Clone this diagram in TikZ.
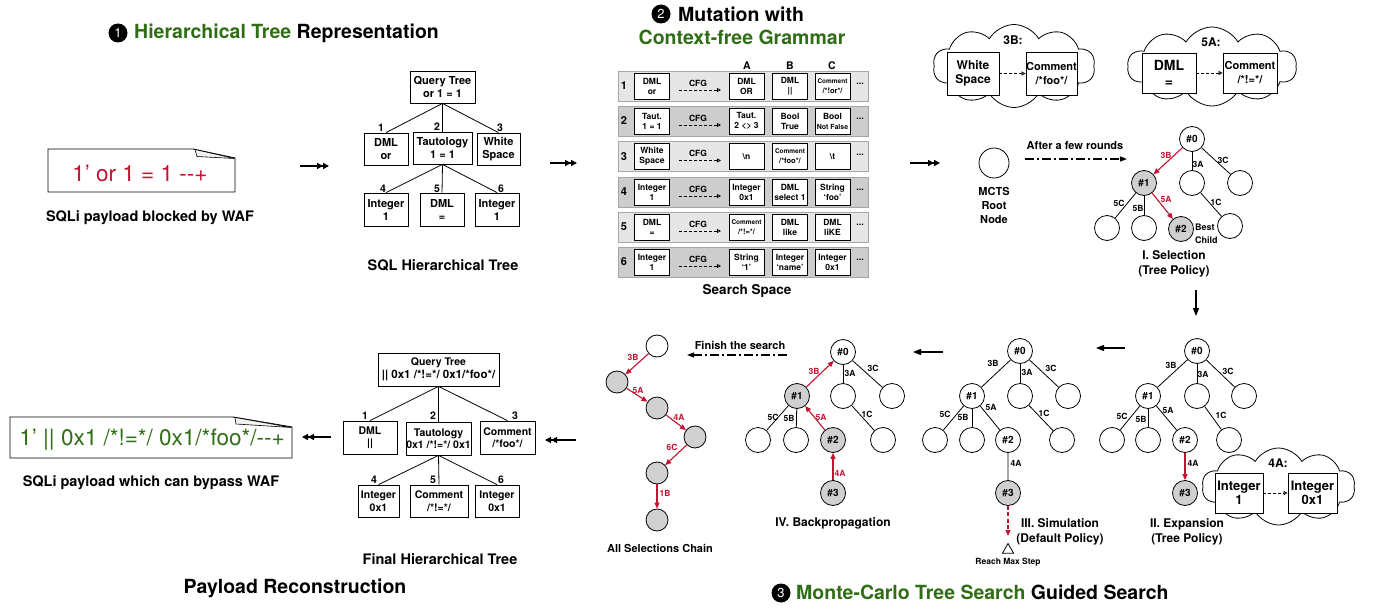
\documentclass[tikz,border=0pt]{standalone}
\usepackage{fontspec}
\setmainfont{TeX Gyre Heros}
\usetikzlibrary{arrows.meta,shapes.symbols,shapes.geometric}
\definecolor{mred}{HTML}{C41230}
\definecolor{mgreen}{HTML}{2F6E14}
\definecolor{ngray}{HTML}{D0D0D0}
\definecolor{rowlight}{HTML}{E6E6E6}
\definecolor{rowdark}{HTML}{CDCDCD}
\newcommand\fsz[2]{\fontsize{#1}{#2}\selectfont}
\tikzset{
  ttl/.style={font=\bfseries\fsz{19.5}{22}, inner sep=0pt},
  captxt/.style={font=\bfseries\fsz{14.5}{17}, inner sep=0pt},
  numc/.style={circle, fill=black, text=white, minimum size=19pt, inner sep=0pt, font=\fsz{13}{13}},
  hb/.style={draw, fill=white, line width=0.8pt, inner sep=0pt, align=center, font=\bfseries\fsz{11}{13}},
  fb/.style={hb, font=\bfseries\fsz{10.5}{12.5}},
  hl/.style={font=\bfseries\fsz{10.5}{12}, inner sep=0pt},
  gb/.style={draw, fill=white, line width=0.7pt, minimum width=35pt, minimum height=26pt, inner sep=0pt, align=center, font=\bfseries\fsz{8.5}{10}},
  tn/.style={circle, draw, fill=white, line width=0.8pt, minimum size=25pt, inner sep=0pt, font=\bfseries\fsz{10}{12}},
  tg/.style={tn, fill=ngray},
  cn/.style={tn, minimum size=22pt},
  cg/.style={cn, fill=ngray},
  elab/.style={font=\bfseries\fsz{8.5}{9}, inner sep=0pt},
  elr/.style={elab, text=mred},
  tedge/.style={line width=0.8pt},
  redarr/.style={draw=mred, line width=1.1pt, -{Triangle[length=6pt,width=5pt]}},
  dblarr/.style={line width=1.3pt, -{Triangle[length=6pt,width=6pt]Triangle[length=6pt,width=6pt]}},
  sarr/.style={line width=1.3pt, -{Triangle[length=8pt,width=6pt]}},
  ddarr/.style={line width=1.2pt, dash pattern=on 9pt off 3pt on 2pt off 3pt, -{Triangle[length=7pt,width=5pt]}},
  cfga/.style={line width=0.8pt, dash pattern=on 3pt off 2pt, -{Triangle[open,length=4pt,width=4pt]}},
  cld/.style={cloud, draw, fill=white, line width=0.8pt, cloud puffs=10, cloud puff arc=120, aspect=2},
  clb/.style={draw, fill=white, line width=0.8pt, inner sep=0pt, align=center, font=\bfseries\fsz{12}{14}},
  stg/.style={font=\bfseries\fsz{12}{15}, align=center, inner sep=0pt},
}
\begin{document}
\begin{tikzpicture}[x=1pt,y=-1pt]
\useasboundingbox (0,0) rectangle (1383,610);
\fill[white] (0,0) rectangle (1383,610);

% ================= Section 1 =================
\node[numc] (c1) at (118,33) {1};
\node[ttl, anchor=west] (t1) at (134,33) {\textcolor{mgreen}{Hierarchical Tree} Representation};

\draw[line width=0.9pt] (48,149) -- (193,149) -- (235,158) -- (235,192) -- (48,192) -- cycle;
\draw[line width=0.6pt, fill=gray!10] (195,149.5) -- (197,156.5) -- (234.5,158.5) -- cycle;
\node[font=\fsz{22.5}{24}, text=mred] (pl1) at (140,173) {1’ or 1 = 1 -{}-+};
\node[captxt] (cp1) at (150,218) {SQLi payload blocked by WAF};

\coordinate (a1s) at (300,166); \coordinate (a1e) at (329,166);
\draw[dblarr] (a1s) -- (a1e);

\node[hb, minimum width=65pt, minimum height=32pt] (q1) at (442.5,87) {Query Tree\\or 1 = 1};
\node[hb, minimum width=44pt, minimum height=32pt] (d1) at (386,149) {DML\\or};
\node[hb, minimum width=59pt, minimum height=32pt] (ta1) at (442.5,148) {Tautology\\1 = 1};
\node[hb, minimum width=43pt, minimum height=32pt] (w1) at (498.5,149) {White\\Space};
\node[hb, minimum width=44pt, minimum height=33pt] (i11) at (386,209.5) {Integer\\1};
\node[hb, minimum width=44pt, minimum height=33pt] (e1) at (442,209.5) {DML\\=};
\node[hb, minimum width=44pt, minimum height=33pt] (i12) at (497,209.5) {Integer\\1};
\draw[tedge] (q1.south) -- (d1.north);
\draw[tedge] (q1.south) -- (ta1.north);
\draw[tedge] (q1.south) -- (w1.north);
\draw[tedge] (ta1.south) -- (i11.north);
\draw[tedge] (ta1.south) -- (e1.north);
\draw[tedge] (ta1.south) -- (i12.north);
\node[hl] (l1) at (381,128) {1};
\node[hl] (l2) at (437,127) {2};
\node[hl] (l3) at (500,128) {3};
\node[hl] (l4) at (383,189) {4};
\node[hl] (l5) at (437,189) {5};
\node[hl] (l6) at (501,189) {6};
\node[captxt] (cp2) at (443,265) {SQL Hierarchical Tree};

\coordinate (a2s) at (550,163); \coordinate (a2e) at (577,163);
\draw[dblarr] (a2s) -- (a2e);

% ================= Section 2 =================
\node[numc] (c2) at (661,14) {2};
\node[ttl, anchor=west] (t2a) at (678,14) {Mutation with};
\node[ttl, text=mgreen] (t2b) at (742,37) {Context-free Grammar};

\node[hl] (hA) at (747,66) {A};
\node[hl] (hB) at (790,66) {B};
\node[hl] (hC) at (832,66) {C};

\foreach \y/\c/\n in {86/rowlight/1, 121/rowdark/2, 156.5/rowlight/3, 192/rowdark/4, 227/rowlight/5, 262/rowdark/6}{
  \draw[fill=\c, draw=gray!70, line width=0.6pt] (618,\y-15) rectangle (868,\y+15);
  \node[font=\bfseries\fsz{11}{12}] (rn\n) at (624,\y) {\n};
  \node[font=\bfseries\fsz{8.5}{9}, inner sep=0pt] (cfg\n) at (698,\y-3) {CFG};
  \coordinate (cs\n) at (679,\y+4);
  \coordinate (ce\n) at (721,\y+4);
  \draw[cfga] (cs\n) -- (ce\n);
  \node[font=\bfseries\fsz{9}{9}] (dots\n) at (860,\y-2) {...};
}
% row 1
\node[gb] (r1s) at (652,86) {DML\\or};
\node[gb] (r1a) at (746.5,86) {DML\\OR};
\node[gb] (r1b) at (790,86) {DML\\||};
\node[gb] (r1c) at (832.5,86) {{\fsz{6.5}{8}Comment}\\{\fsz{7.5}{9}/*!or*/}};
% row 2
\node[gb] (r2s) at (652,121) {Taut.\\1 = 1};
\node[gb] (r2a) at (746.5,121) {Taut.\\2 <> 3};
\node[gb] (r2b) at (790,121) {Bool\\True};
\node[gb] (r2c) at (832.5,121) {Bool\\{\fsz{7}{8}Not False}};
% row 3
\node[gb] (r3s) at (652,156.5) {White\\Space};
\node[gb] (r3a) at (746.5,156.5) {\textbackslash n};
\node[gb] (r3b) at (790,156.5) {{\fsz{6.5}{8}Comment}\\{\fsz{7.5}{9}/*foo*/}};
\node[gb] (r3c) at (832.5,156.5) {\textbackslash t};
% row 4
\node[gb] (r4s) at (652,192) {Integer\\1};
\node[gb] (r4a) at (746.5,192) {Integer\\0x1};
\node[gb] (r4b) at (790,192) {DML\\select 1};
\node[gb] (r4c) at (832.5,192) {String\\‘foo’};
% row 5
\node[gb] (r5s) at (652,227) {DML\\=};
\node[gb] (r5a) at (746.5,227) {{\fsz{6.5}{8}Comment}\\{\fsz{7.5}{9}/*!=*/}};
\node[gb] (r5b) at (790,227) {DML\\like};
\node[gb] (r5c) at (832.5,227) {DML\\liKE};
% row 6
\node[gb] (r6s) at (652,262) {Integer\\1};
\node[gb] (r6a) at (746.5,262) {String\\‘1’};
\node[gb] (r6b) at (790,262) {Integer\\‘name’};
\node[gb] (r6c) at (832.5,262) {Integer\\0x1};
\node[font=\bfseries\fsz{13.5}{16}, inner sep=0pt] (ss) at (747,291) {Search Space};

\coordinate (a3s) at (910,163); \coordinate (a3e) at (940,163);
\draw[dblarr] (a3s) -- (a3e);

% ================= Section 3 =================
% clouds
\node[cld, minimum width=162pt, minimum height=83pt] (cl1) at (1014,66) {};
\node[font=\bfseries\fsz{12}{14}, inner sep=0pt] (cl1t) at (1013,40) {3B:};
\node[clb, minimum width=52pt, minimum height=43pt] (cl1a) at (973,73.5) {White\\Space};
\node[clb, minimum width=51pt, minimum height=43pt, font=\bfseries\fsz{11}{14}] (cl1b) at (1051.5,73.5) {Comment\\/*foo*/};
\draw[cfga] (cl1a) -- (cl1b);

\node[cld, minimum width=169pt, minimum height=79pt] (cl2) at (1212,66.5) {};
\node[font=\bfseries\fsz{12}{14}, inner sep=0pt] (cl2t) at (1211,42) {5A:};
\node[clb, minimum width=54pt, minimum height=40pt, font=\bfseries\fsz{14}{16}] (cl2a) at (1169,73) {DML\\=};
\node[clb, minimum width=54pt, minimum height=40pt, font=\bfseries\fsz{11}{14}] (cl2b) at (1250,73) {Comment\\/*!=*/};
\draw[cfga] (cl2a) -- (cl2b);

% root
\node[circle, draw, line width=0.8pt, minimum size=30pt, inner sep=0pt] (root) at (994,163) {};
\node[font=\bfseries\fsz{11}{14}, align=center, inner sep=0pt] (rootl) at (994,205) {MCTS\\Root\\Node};
\node[font=\bfseries\fsz{11}{13}, inner sep=0pt] (afr) at (1075,146) {After a few rounds};
\coordinate (afs) at (1025,159); \coordinate (afe) at (1127,159);
\draw[ddarr] (afs) -- (afe);

% Selection tree
\begin{scope}[shift={(1192,139)}]
\node[tn] (sn0) at (0,0) {\#0};
\node[tg] (sn1) at (-48,44) {\#1};
\node[tn] (sa) at (0,44) {};
\node[tn] (sc) at (48,44) {};
\node[tn] (s5c) at (-85,89) {};
\node[tn] (s5b) at (-48,89) {};
\node[tg] (sn2) at (-11,90) {\#2};
\node[tn] (s1c) at (38,87) {};
\draw[redarr] (sn0) -- (sn1);
\draw[tedge] (sn0) -- (sa);
\draw[tedge] (sn0) -- (sc);
\draw[tedge] (sn1) -- (s5c);
\draw[tedge] (sn1) -- (s5b);
\draw[redarr] (sn1) -- (sn2);
\draw[tedge] (sa) -- (s1c);
\node[elr] (sl3b) at (-26,16) {3B};
\node[elab] (sl3a) at (6,25) {3A};
\node[elab] (sl3c) at (31,21) {3C};
\node[elab] (sl5c) at (-73,64) {5C};
\node[elab] (sl5b) at (-54,69) {5B};
\node[elr] (sl5a) at (-26,60) {5A};
\node[elab] (sl1c) at (24,63) {1C};
\node[font=\bfseries\fsz{9}{12.5}, align=left, anchor=west, inner sep=0pt] (best) at (3,95) {Best\\Child};
\end{scope}
\node[stg] (stg1) at (1174,263.5) {I. Selection\\(Tree Policy)};
\coordinate (dws) at (1196,290); \coordinate (dwe) at (1196,316);
\draw[sarr] (dws) -- (dwe);

% Expansion tree
\node[cld, minimum width=153pt, minimum height=77pt] (cl3) at (1278.5,486.5) {};
\begin{scope}[shift={(1197,351)}]
\node[tn] (en0) at (0,0) {\#0};
\node[tn] (en1) at (-49,45) {\#1};
\node[tn] (ea) at (0,45) {};
\node[tn] (ec) at (47,45) {};
\node[tn] (e5c) at (-85,89) {};
\node[tn] (e5b) at (-49,89) {};
\node[tn] (en2) at (-12,89) {\#2};
\node[tn] (e1c) at (32,89) {};
\node[tg] (en3) at (-12,142) {\#3};
\draw[tedge] (en0) -- (en1);
\draw[tedge] (en0) -- (ea);
\draw[tedge] (en0) -- (ec);
\draw[tedge] (en1) -- (e5c);
\draw[tedge] (en1) -- (e5b);
\draw[tedge] (en1) -- (en2);
\draw[tedge] (ea) -- (e1c);
\draw[redarr] (en2) -- (en3);
\node[elab] (el3b) at (-26,14) {3B};
\node[elab] (el3a) at (6,23) {3A};
\node[elab] (el3c) at (31,20) {3C};
\node[elab] (el5c) at (-75,65) {5C};
\node[elab] (el5b) at (-56,68) {5B};
\node[elab] (el5a) at (-29,59) {5A};
\node[elab] (el1c) at (24,64) {1C};
\node[elab] (el4a) at (-4,112) {4A};
\end{scope}
\node[font=\bfseries\fsz{12}{14}, inner sep=0pt] (cl3t) at (1278,463) {4A:};
\node[clb, minimum width=48pt, minimum height=40pt, font=\bfseries\fsz{13}{14}] (cl3a) at (1239,493) {Integer\\1};
\node[clb, minimum width=49pt, minimum height=40pt, font=\bfseries\fsz{13}{14}] (cl3b) at (1312.5,493) {Integer\\0x1};
\draw[cfga] (cl3a) -- (cl3b);
\node[stg] (stg2) at (1187,531.5) {II. Expansion\\(Tree Policy)};
\coordinate (l1s) at (1125,348); \coordinate (l1e) at (1096,348);
\draw[sarr] (l1s) -- (l1e);

% Simulation tree
\begin{scope}[shift={(1020,351)}]
\node[tn] (mn0) at (0,0) {\#0};
\node[tn] (mn1) at (-48,45) {\#1};
\node[tn] (ma) at (0,45) {};
\node[tn] (mc) at (48,45) {};
\node[tn] (m5c) at (-85,89) {};
\node[tn] (m5b) at (-48,89) {};
\node[tn] (mn2) at (-12,89) {\#2};
\node[tn] (m1c) at (42,89) {};
\node[tg] (mn3) at (-12,142) {\#3};
\draw[tedge] (mn0) -- (mn1);
\draw[tedge] (mn0) -- (ma);
\draw[tedge] (mn0) -- (mc);
\draw[tedge] (mn1) -- (m5c);
\draw[tedge] (mn1) -- (m5b);
\draw[tedge] (mn1) -- (mn2);
\draw[tedge] (ma) -- (m1c);
\draw[line width=1.6pt, gray!70] (mn2) -- (mn3);
\coordinate (mend) at (-12,185);
\draw[draw=mred, line width=1.1pt, dash pattern=on 4pt off 2.5pt, -{Triangle[length=6pt,width=5pt]}] (mn3) -- (mend);
\node[regular polygon, regular polygon sides=3, draw, line width=0.8pt, minimum size=13pt, inner sep=0pt] (tri) at (-12,199) {};
\node[font=\bfseries\fsz{8.5}{10}, inner sep=0pt] (rms) at (-12,211) {Reach Max Step};
\node[elab] (ml3b) at (-27,12) {3B};
\node[elab] (ml3a) at (7,21) {3A};
\node[elab] (ml3c) at (31,17) {3C};
\node[elab] (ml5c) at (-75,63) {5C};
\node[elab] (ml5b) at (-57,66) {5B};
\node[elab] (ml5a) at (-29,56) {5A};
\node[elab] (ml1c) at (24,62) {1C};
\node[elab] (ml4a) at (-4,112) {4A};
\end{scope}
\node[stg] (stg3) at (1060,531.5) {III. Simulation\\(Default Policy)};
\coordinate (l2s) at (943,352); \coordinate (l2e) at (913,352);
\draw[sarr] (l2s) -- (l2e);

% Backpropagation tree
\begin{scope}[shift={(843,352)}]
\node[tn] (bn0) at (0,0) {\#0};
\node[tg] (bn1) at (-46,44) {\#1};
\node[tn] (ba) at (0,44) {};
\node[tn] (bc) at (49,44) {};
\node[tn] (b5c) at (-85,88) {};
\node[tn] (b5b) at (-47,88) {};
\node[tg] (bn2) at (-10,88) {\#2};
\node[tn] (b1c) at (40,88) {};
\node[tg] (bn3) at (-10,141) {\#3};
\draw[redarr] (bn1) -- (bn0);
\draw[tedge] (bn0) -- (ba);
\draw[tedge] (bn0) -- (bc);
\draw[tedge] (bn1) -- (b5c);
\draw[tedge] (bn1) -- (b5b);
\draw[redarr] (bn2) -- (bn1);
\draw[tedge] (ba) -- (b1c);
\draw[redarr] (bn3) -- (bn2);
\node[elr] (bl3b) at (-29,19) {3B};
\node[elab] (bl3a) at (7,21) {3A};
\node[elab] (bl3c) at (30,16) {3C};
\node[elab] (bl5c) at (-70,65) {5C};
\node[elab] (bl5b) at (-54,66) {5B};
\node[elr] (bl5a) at (-22,65) {5A};
\node[elab] (bl1c) at (24,62) {1C};
\node[elr] (bl4a) at (-3,121) {4A};
\end{scope}
\node[stg] (stg4) at (833,523) {IV. Backpropagation};

% Finish the search
\node[font=\bfseries\fsz{11}{13}, inner sep=0pt] (fts) at (740,345) {Finish the search};
\coordinate (fs) at (787,355); \coordinate (fe) at (687,355);
\draw[ddarr] (fs) -- (fe);

% Chain
\node[cn] (ch1) at (657,346) {};
\node[cg] (ch2) at (617,382) {};
\node[cg] (ch3) at (657,408) {};
\node[cg] (ch4) at (695,437) {};
\node[cg] (ch5) at (657,473) {};
\node[cg] (ch6) at (657,520) {};
\draw[redarr] (ch1) -- (ch2);
\draw[redarr] (ch2) -- (ch3);
\draw[redarr] (ch3) -- (ch4);
\draw[redarr] (ch4) -- (ch5);
\draw[redarr] (ch5) -- (ch6);
\node[elr] (chl1) at (633,357) {3B};
\node[elr] (chl2) at (638,390) {5A};
\node[elr] (chl3) at (679,417) {4A};
\node[elr] (chl4) at (672,447) {6C};
\node[elr] (chl5) at (665,493) {1B};
\node[font=\bfseries\fsz{11}{13}, inner sep=0pt] (chc) at (660,548) {All Selections Chain};

\node[numc] (c3) at (781,593) {3};
\node[ttl, anchor=west] (t3) at (796,592) {\textcolor{mgreen}{Monte-Carlo Tree Search} Guided Search};

% ================= Section 4 =================
\coordinate (a4s) at (576,440); \coordinate (a4e) at (545,440);
\draw[dblarr] (a4s) -- (a4e);

\node[fb, minimum width=121pt, minimum height=33pt] (q2) at (438.5,369.5) {Query Tree\\{\fsz{11.5}{12.5}|| 0x1 /*!=*/ 0x1/*foo*/}};
\node[fb, minimum width=54pt, minimum height=33pt] (fd) at (370,437.5) {DML\\||};
\node[fb, minimum width=65pt, minimum height=33pt] (ft) at (438.5,438.5) {Tautology\\0x1 /*!=*/ 0x1};
\node[fb, minimum width=55pt, minimum height=33pt] (fc) at (507.5,437.5) {Comment\\/*foo*/};
\node[fb, minimum width=41pt, minimum height=32pt] (fi1) at (378.5,501) {Integer\\0x1};
\node[fb, minimum width=58pt, minimum height=32pt] (fc2) at (439,501) {Comment\\/*!=*/};
\node[fb, minimum width=44pt, minimum height=32pt] (fi2) at (497,501) {Integer\\0x1};
\draw[tedge] (q2.south) -- (fd.north);
\draw[tedge] (q2.south) -- (ft.north);
\draw[tedge] (q2.south) -- (fc.north);
\draw[tedge] (ft.south) -- (fi1.north);
\draw[tedge] (ft.south) -- (fc2.north);
\draw[tedge] (ft.south) -- (fi2.north);
\node[hl] (fl1) at (365,416) {1};
\node[hl] (fl2) at (433,416) {2};
\node[hl] (fl3) at (515,416) {3};
\node[hl] (fl4) at (374,480) {4};
\node[hl] (fl5) at (433,480) {5};
\node[hl] (fl6) at (501,480) {6};
\node[captxt] (cp3) at (440,559) {Final Hierarchical Tree};

\coordinate (a5s) at (331,437); \coordinate (a5e) at (302,437);
\draw[dblarr] (a5s) -- (a5e);

\draw[line width=0.9pt] (10,417) -- (233,417) -- (292,427) -- (292,458) -- (10,458) -- cycle;
\draw[line width=0.6pt, fill=gray!10] (235,417.5) -- (236,424) -- (291.5,427.5) -- cycle;
\node[font=\fsz{22.5}{24}, text=mgreen] (pl2) at (152,440) {1’ || 0x1 /*!=*/ 0x1/*foo*/-{}-+};
\node[captxt] (cp4) at (151,483) {SQLi payload which can bypass WAF};
\node[ttl] (t4) at (295,588) {Payload Reconstruction};
\end{tikzpicture}
\end{document}
